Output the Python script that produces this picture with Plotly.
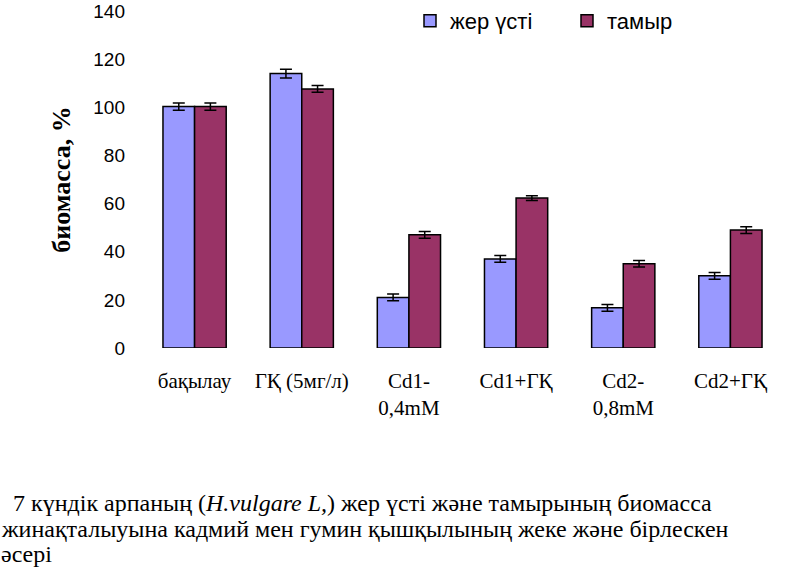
import plotly.graph_objects as go

categories = ["бақылау", "ГҚ (5мг/л)", "Cd1-<br>0,4mM", "Cd1+ГҚ", "Cd2-<br>0,8mM", "Cd2+ГҚ"]
shoot = [100.3, 114.0, 21.0, 37.0, 16.7, 30.0]
shoot_err = [1.5, 1.8, 1.4, 1.4, 1.4, 1.4]
root = [100.3, 107.6, 47.0, 62.3, 35.0, 49.0]
root_err = [1.5, 1.4, 1.4, 1.0, 1.4, 1.4]
series_names = ["жер үсті", "тамыр"]
y_ticks = [0, 20, 40, 60, 80, 100, 120, 140]

W, H = 800, 568
L, R, T, B = 141, 16, 11, 220
pw, ph = W - L - R, H - T - B

SERIF = "Liberation Serif, Times New Roman, serif"
SANS = "Liberation Sans, Arial, sans-serif"

def px_x(x):
    return (x - L) / pw

def px_y(y):
    return 1 - (y - T) / ph

fig = go.Figure()
fig.add_trace(go.Bar(
    name=series_names[0], x=categories, y=shoot,
    marker=dict(color="#9999FF", line=dict(color="black", width=1.5)),
    error_y=dict(type="data", array=shoot_err, color="black", thickness=1.5, width=6),
))
fig.add_trace(go.Bar(
    name=series_names[1], x=categories, y=root,
    marker=dict(color="#993366", line=dict(color="black", width=1.5)),
    error_y=dict(type="data", array=root_err, color="black", thickness=1.5, width=6),
))

caption = [
    "\u00a0\u00a07 күндік арпаның (<i>H.vulgare L,</i>) жер үсті және тамырының биомасса",
    "жинақталыуына кадмий мен гумин қышқылының жеке және бірлескен",
    "әсері",
]
cap_y = [503, 529, 554]
for txt, yy in zip(caption, cap_y):
    fig.add_annotation(text=txt, xref="paper", yref="paper", x=px_x(0), y=px_y(yy),
                       xanchor="left", yanchor="middle", showarrow=False,
                       borderpad=0,
                       font=dict(family=SERIF, size=24, color="black"))

fig.update_layout(
    width=W, height=H,
    margin=dict(l=L, r=R, t=T, b=B, autoexpand=False),
    paper_bgcolor="white", plot_bgcolor="white",
    barmode="group", bargap=0.41, bargroupgap=0,
    showlegend=True,
    legend=dict(orientation="h", x=px_x(410), y=px_y(0), xanchor="left", yanchor="top",
                font=dict(family=SANS, size=22, color="black"),
                bgcolor="rgba(0,0,0,0)", entrywidth=112, entrywidthmode="pixels"),
    xaxis=dict(showline=False, showgrid=False, ticks="", automargin=False,
               tickfont=dict(family=SERIF, size=21, color="black"),
               ticklabelstandoff=18),
    yaxis=dict(range=[0, 140], tickvals=y_ticks, showline=False, showgrid=False,
               zeroline=False, ticks="", automargin=False,
               tickfont=dict(family=SANS, size=19, color="black"),
               ticklabelstandoff=15,
               title=dict(text="<b>биомасса, %</b>", standoff=15,
                          font=dict(family=SERIF, size=26, color="black"))),
)

fig.write_html("out.html", post_script="document.body.style.margin='0';",
               config={"displayModeBar": False})
